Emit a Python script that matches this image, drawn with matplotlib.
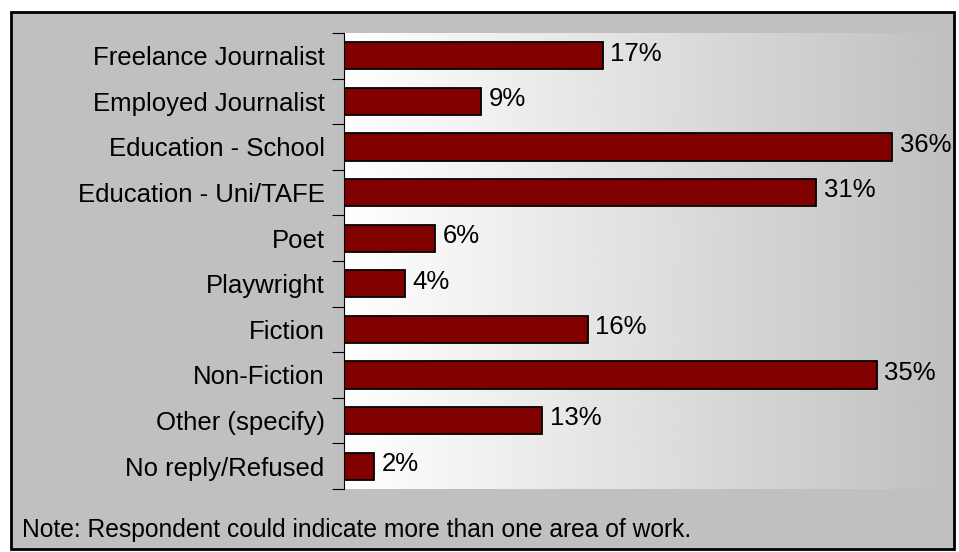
import numpy as np
import matplotlib.pyplot as plt
from matplotlib.patches import Rectangle

plt.rcParams['font.family'] = ['Liberation Sans', 'DejaVu Sans']

categories = ['Freelance Journalist', 'Employed Journalist', 'Education - School',
              'Education - Uni/TAFE', 'Poet', 'Playwright', 'Fiction',
              'Non-Fiction', 'Other (specify)', 'No reply/Refused']
values = [17, 9, 36, 31, 6, 4, 16, 35, 13, 2]
note = 'Note: Respondent could indicate more than one area of work.'

W, H = 959, 552
FS = 18.5
fig = plt.figure(figsize=(W / 100, H / 100), dpi=100)
fig.patch.set_facecolor('white')

# grey panel with black frame
fig.patches.append(Rectangle((11 / W, 1 - 549 / H), (954 - 11) / W, (549 - 12) / H,
                             transform=fig.transFigure, facecolor='#c0c0c0',
                             edgecolor='black', linewidth=2, zorder=-1))

ax = fig.add_axes([344 / W, 1 - 489 / H, (953 - 344) / W, (489 - 33) / H])
ax.set_xlim(0, 40)
ax.set_ylim(len(categories), 0)

# white-to-grey gradient behind the bars
grad = np.linspace(1.0, 0.75, 256).reshape(1, -1)
ax.imshow(grad, cmap='gray', vmin=0, vmax=1, aspect='auto',
          extent=[0, 40, len(categories), 0], zorder=0)

y = np.arange(len(categories)) + 0.5
ax.barh(y, values, height=0.6, color='#800000', edgecolor='black', linewidth=1.3, zorder=2)
for yi, v in zip(y, values):
    ax.text(v + 0.5, yi - 0.05, f'{v}%', va='center', ha='left', fontsize=FS, zorder=3)

ax.set_yticks(np.arange(len(categories) + 1), minor=False)
ax.set_yticklabels([])
ax.set_yticks(y, minor=True)
ax.set_yticklabels(categories, minor=True, fontsize=FS)
ax.tick_params(axis='y', which='major', length=9, width=0.8, direction='out')
ax.tick_params(axis='y', which='minor', length=0, pad=14)
ax.set_xticks([])

for s in ['top', 'right', 'bottom']:
    ax.spines[s].set_visible(False)
ax.spines['left'].set_linewidth(0.8)

fig.text(22 / W, 1 - 530 / H, note, fontsize=17.7, va='center', ha='left')

fig.savefig('out.png', dpi=100)
